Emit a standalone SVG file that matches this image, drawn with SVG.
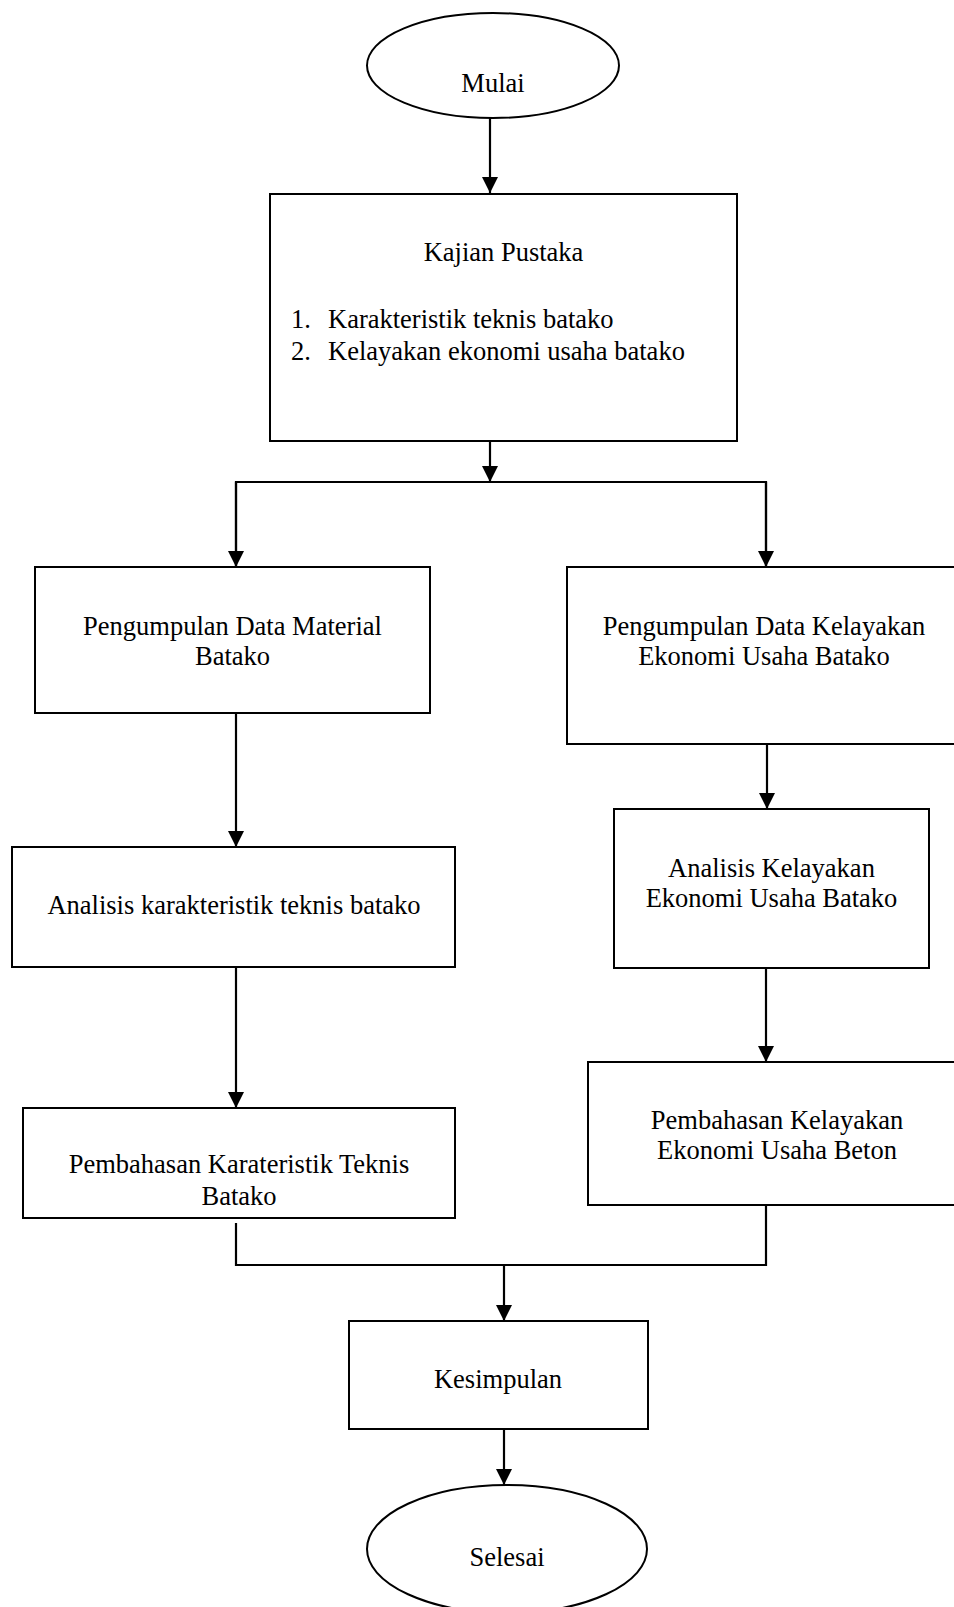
<svg xmlns="http://www.w3.org/2000/svg" width="954" height="1607" viewBox="0 0 954 1607">
<style>
.box{fill:#fff;stroke:#000;stroke-width:2}
.term{fill:#fff;stroke:#000;stroke-width:2}
.t{font-family:"Liberation Serif","Times New Roman",serif;font-size:26.5px;fill:#000;text-anchor:middle}
.tl{font-family:"Liberation Serif","Times New Roman",serif;font-size:26.5px;fill:#000}
.ln{fill:none;stroke:#000;stroke-width:2.2}
</style>
<defs>
<marker id="ah" markerUnits="userSpaceOnUse" markerWidth="16" markerHeight="18" refX="16" refY="8" orient="auto">
<path d="M0,0 L16,8 L0,16 Z" fill="#000"/>
</marker>
</defs>
<rect width="954" height="1607" fill="#fff"/>
<g id="connectors">
<line class="ln" x1="490" y1="118" x2="490" y2="193" marker-end="url(#ah)"/>
<line class="ln" x1="490" y1="438" x2="490" y2="482" marker-end="url(#ah)"/>
<polyline class="ln" points="236,567 236,482 766,482 766,567"/>
<line class="ln" x1="236" y1="482" x2="236" y2="567" marker-end="url(#ah)"/>
<line class="ln" x1="766" y1="482" x2="766" y2="567" marker-end="url(#ah)"/>
<line class="ln" x1="236" y1="713" x2="236" y2="847" marker-end="url(#ah)"/>
<line class="ln" x1="236" y1="967" x2="236" y2="1108" marker-end="url(#ah)"/>
<line class="ln" x1="767" y1="744" x2="767" y2="809" marker-end="url(#ah)"/>
<line class="ln" x1="766" y1="968" x2="766" y2="1062" marker-end="url(#ah)"/>
<polyline class="ln" points="236,1223 236,1265 766,1265 766,1205"/>
<line class="ln" x1="504" y1="1265" x2="504" y2="1321" marker-end="url(#ah)"/>
<line class="ln" x1="504" y1="1429" x2="504" y2="1485" marker-end="url(#ah)"/>
</g>
<g id="mulai">
<ellipse class="term" cx="493" cy="65.5" rx="126" ry="52.5"/>
<text class="t" x="493" y="92">Mulai</text>
</g>
<g id="kajian">
<rect class="box" x="270" y="194" width="467" height="247"/>
<text class="t" x="503.5" y="261">Kajian Pustaka</text>
<text class="tl" x="291" y="328">1.</text>
<text class="tl" x="328" y="328">Karakteristik teknis batako</text>
<text class="tl" x="291" y="360">2.</text>
<text class="tl" x="328" y="360">Kelayakan ekonomi usaha batako</text>
</g>
<g id="pengumpulan-material">
<rect class="box" x="35" y="567" width="395" height="146"/>
<text class="t" x="232.5" y="635">Pengumpulan Data Material</text>
<text class="t" x="232.5" y="665">Batako</text>
</g>
<g id="pengumpulan-kelayakan">
<rect class="box" x="567" y="567" width="400" height="177"/>
<text class="t" x="764" y="635">Pengumpulan Data Kelayakan</text>
<text class="t" x="764" y="665">Ekonomi Usaha Batako</text>
</g>
<g id="analisis-teknis">
<rect class="box" x="12" y="847" width="443" height="120"/>
<text class="t" x="234" y="914">Analisis karakteristik teknis batako</text>
</g>
<g id="analisis-kelayakan">
<rect class="box" x="614" y="809" width="315" height="159"/>
<text class="t" x="771.5" y="877">Analisis Kelayakan</text>
<text class="t" x="771.5" y="907">Ekonomi Usaha Batako</text>
</g>
<g id="pembahasan-teknis">
<rect class="box" x="23" y="1108" width="432" height="110"/>
<text class="t" x="239" y="1173">Pembahasan Karateristik Teknis</text>
<text class="t" x="239" y="1205">Batako</text>
</g>
<g id="pembahasan-kelayakan">
<rect class="box" x="588" y="1062" width="380" height="143"/>
<text class="t" x="777" y="1129">Pembahasan Kelayakan</text>
<text class="t" x="777" y="1159">Ekonomi Usaha Beton</text>
</g>
<g id="kesimpulan">
<rect class="box" x="349" y="1321" width="299" height="108"/>
<text class="t" x="498" y="1388">Kesimpulan</text>
</g>
<g id="selesai">
<ellipse class="term" cx="507" cy="1549" rx="140" ry="64"/>
<text class="t" x="507" y="1566">Selesai</text>
</g>
</svg>
